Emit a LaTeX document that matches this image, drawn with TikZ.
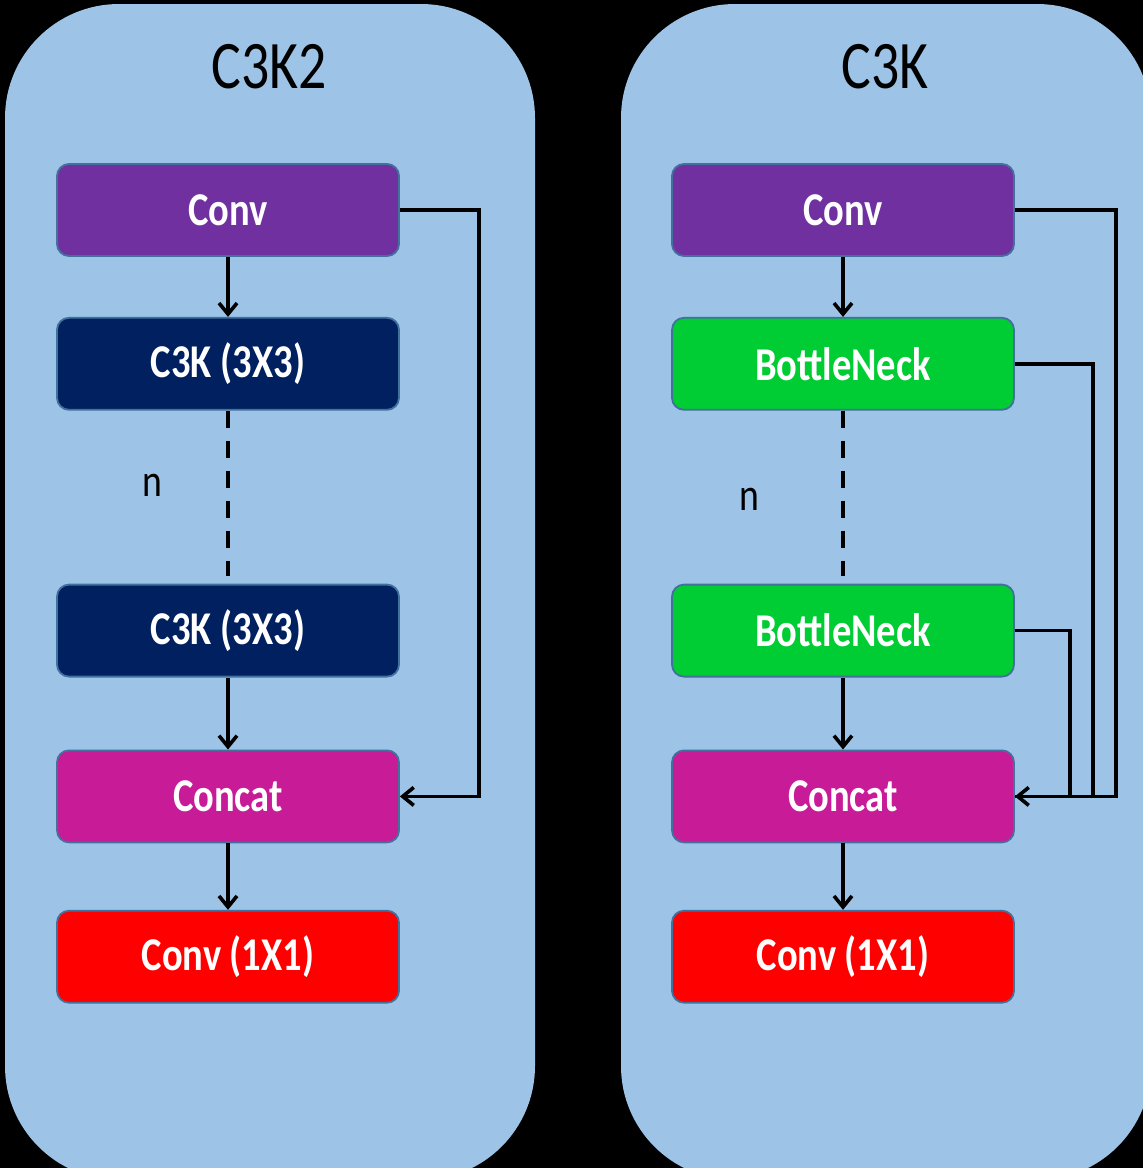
\documentclass[tikz,border=0pt]{standalone}
\usepackage{fontspec}
\setmainfont[FakeStretch=0.82]{Carlito}
\usetikzlibrary{positioning,arrows.meta}

\definecolor{panelblue}{HTML}{9DC3E6}
\definecolor{boxedge}{HTML}{41719C}
\definecolor{convpurple}{HTML}{7030A0}
\definecolor{c3knavy}{HTML}{002060}
\definecolor{neckgreen}{HTML}{00CC33}
\definecolor{catpink}{HTML}{C71B98}
\definecolor{outred}{HTML}{FF0000}

\begin{document}
\begin{tikzpicture}[x=0.5pt, y=-0.5pt, >={Straight Barb[length=5.5pt,width=9pt]}, line width=1.8pt]
\tikzstyle{block}=[draw=boxedge, line width=0.9pt, rounded corners=6pt, minimum width=171pt, minimum height=46pt, inner sep=0pt, text=white, font=\fontsize{23.5}{27}\selectfont\bfseries]
\tikzstyle{title}=[font=\fontsize{34}{38}\selectfont]
\tikzstyle{count}=[font=\fontsize{23}{27}\selectfont]
\tikzstyle{repeat}=[dashed, dash pattern=on 8.5pt off 6.5pt]

\useasboundingbox (0,0) rectangle (1143,1168);
\fill[black] (0,0) rectangle (1143,1168);
\begin{scope}
\clip (0,0) rectangle (1143,1168);
\fill[panelblue, rounded corners=57pt] (5,4) rectangle (535,1180);
\fill[panelblue, rounded corners=57pt] (621,4) rectangle (1151,1180);
\end{scope}

% C3K2
\node[title]                                   (t2)    at (269,67)  {C3K2};
\node[block, fill=convpurple]                  (conv)  at (228,210) {Conv};
\node[block, fill=c3knavy, below=30pt of conv]   (c3ka)  {C3K (3X3)};
\node[block, fill=c3knavy, below=86.5pt of c3ka] (c3kb)  {C3K (3X3)};
\node[block, fill=catpink, below=36pt of c3kb]   (cat)   {Concat};
\node[block, fill=outred, below=33.25pt of cat]  (out)   {Conv (1X1)};
\node[count]                                   (n2)    at (152,485) {n};
\coordinate (skip) at (479,0);

\draw[->] (conv) -- (c3ka);
\draw[repeat] (c3ka) -- ([yshift=4pt]c3kb.north);
\draw[->] (c3kb) -- (cat);
\draw[->] (cat) -- (out);
\draw[->] (conv.east) -- (conv.east -| skip) -- (cat.east -| skip) -- (cat.east);

% C3K
\node[title]                                   (t1)    at (885,67)  {C3K};
\node[block, fill=convpurple]                  (convk) at (843,210) {Conv};
\node[block, fill=neckgreen, below=30pt of convk]  (neka)  {BottleNeck};
\node[block, fill=neckgreen, below=86.5pt of neka] (nekb)  {BottleNeck};
\node[block, fill=catpink, below=36pt of nekb]     (catk)  {Concat};
\node[block, fill=outred, below=33.25pt of catk]   (outk)  {Conv (1X1)};
\node[count]                                   (n1)    at (749,499) {n};
\coordinate (skipa) at (1116,0);
\coordinate (skipb) at (1093,0);
\coordinate (skipc) at (1070,0);

\draw[->] (convk) -- (neka);
\draw[repeat] (neka) -- ([yshift=4pt]nekb.north);
\draw[->] (nekb) -- (catk);
\draw[->] (catk) -- (outk);
\draw (neka.east) -- (neka.east -| skipb) -- (catk.east -| skipb) -- (catk.east);
\draw (nekb.east) -- (nekb.east -| skipc) -- (catk.east -| skipc) -- (catk.east);
\draw[->] (convk.east) -- (convk.east -| skipa) -- (catk.east -| skipa) -- (catk.east);

\end{tikzpicture}
\end{document}
